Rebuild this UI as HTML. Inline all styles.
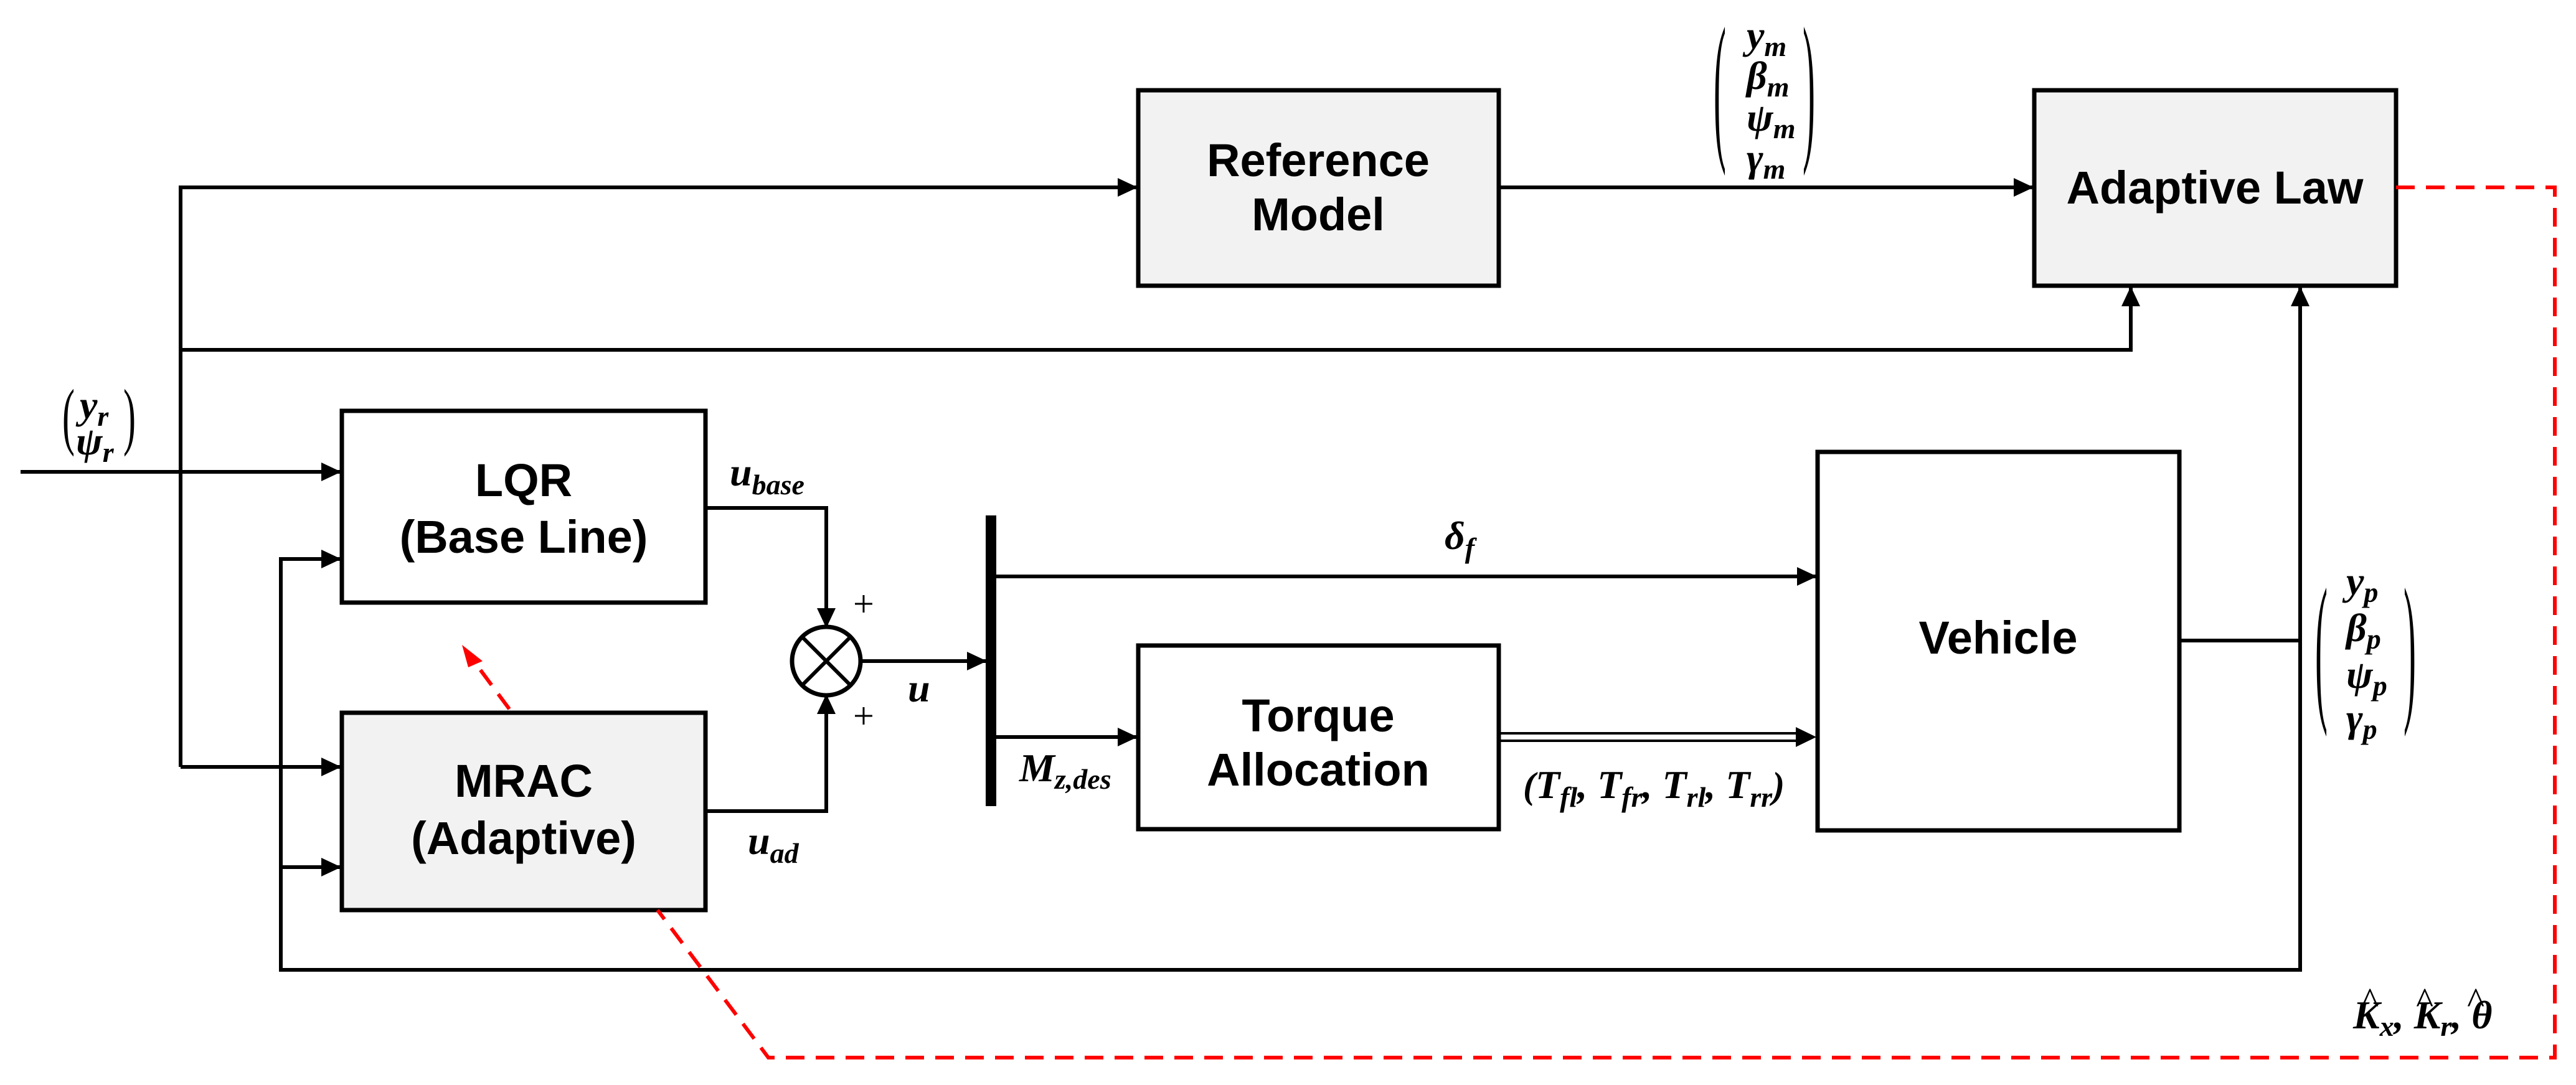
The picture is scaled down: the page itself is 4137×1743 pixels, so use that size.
<!DOCTYPE html>
<html><head><meta charset="utf-8"><style>
html,body{margin:0;padding:0;background:#fff;}
svg{display:block;}
.bx{font-family:"Liberation Sans",sans-serif;font-weight:bold;font-size:74px;fill:#000;text-anchor:middle;}
.m{font-family:"Liberation Serif",serif;font-weight:bold;font-style:italic;font-size:64px;fill:#000;}
.s{font-size:46px;}
.p{font-family:"Liberation Serif",serif;font-size:60px;fill:#000;}
</style></head><body>
<svg width="4137" height="1743" viewBox="0 0 4137 1743" xmlns="http://www.w3.org/2000/svg">
<defs>
<marker id="ab" markerWidth="32" markerHeight="30" refX="30" refY="15" orient="auto" markerUnits="userSpaceOnUse" viewBox="0 0 32 30"><path d="M0,0 L32,15 L0,30 z" fill="#000"/></marker>
</defs>
<g stroke="#000" stroke-width="7" fill="none">
<rect x="1828" y="145" width="579" height="314" fill="#f2f2f2"/>
<rect x="3267" y="145" width="581" height="314" fill="#f2f2f2"/>
<rect x="549" y="660" width="584" height="308" fill="#fff"/>
<rect x="549" y="1145" width="584" height="317" fill="#f2f2f2"/>
<rect x="1828" y="1037" width="579" height="295" fill="#fff"/>
<rect x="2919" y="726" width="581" height="608" fill="#fff"/>
</g>
<g stroke="#000" stroke-width="6" fill="none">
<polyline points="290,1232 290,301 1825,301" marker-end="url(#ab)"/>
<line x1="290" y1="1232" x2="546" y2="1232" marker-end="url(#ab)"/>
<polyline points="290,562 3422,562 3422,462" marker-end="url(#ab)"/>
<line x1="33" y1="758" x2="546" y2="758" marker-end="url(#ab)"/>
<polyline points="3694,1029 3694,1558 451,1558 451,898 546,898" marker-end="url(#ab)"/>
<line x1="451" y1="1393" x2="546" y2="1393" marker-end="url(#ab)"/>
<line x1="3694" y1="1029" x2="3694" y2="462" marker-end="url(#ab)"/>
<line x1="3500" y1="1029" x2="3694" y2="1029"/>
<line x1="2407" y1="301" x2="3264" y2="301" marker-end="url(#ab)"/>
<polyline points="1133,816 1327,816 1327,1007" marker-end="url(#ab)"/>
<polyline points="1133,1303 1327,1303 1327,1117" marker-end="url(#ab)"/>
<circle cx="1327" cy="1062" r="55" stroke-width="7"/>
<line x1="1288" y1="1023" x2="1366" y2="1101"/>
<line x1="1366" y1="1023" x2="1288" y2="1101"/>
<line x1="1382" y1="1062" x2="1583" y2="1062" marker-end="url(#ab)"/>
<line x1="1591" y1="926" x2="2916" y2="926" marker-end="url(#ab)"/>
<line x1="1591" y1="1184" x2="1825" y2="1184" marker-end="url(#ab)"/>
<line x1="2407" y1="1178" x2="2890" y2="1178" stroke-width="4"/>
<line x1="2407" y1="1190" x2="2890" y2="1190" stroke-width="4"/>
</g>
<path d="M2884,1168 L2917,1184 L2884,1200 z" fill="#000"/>
<rect x="1583" y="828" width="17" height="467" fill="#000"/>
<g stroke="#f00" stroke-width="6" fill="none" stroke-dasharray="30,18">
<polyline points="3848,301 4103,301 4103,1699 1234,1699 1056,1462"/>
<line x1="818" y1="1139" x2="752" y2="1050"/>
</g>
<path d="M742,1036 L775,1062 L752,1072 z" fill="#f00"/>
<text class="bx" x="2117" y="283">Reference</text>
<text class="bx" x="2117" y="370">Model</text>
<text class="bx" x="3557" y="327">Adaptive Law</text>
<text class="bx" x="841" y="797">LQR</text>
<text class="bx" x="841" y="888">(Base Line)</text>
<text class="bx" x="841" y="1280">MRAC</text>
<text class="bx" x="841" y="1372">(Adaptive)</text>
<text class="bx" x="2117" y="1175">Torque</text>
<text class="bx" x="2117" y="1262">Allocation</text>
<text class="bx" x="3209" y="1050">Vehicle</text>
<text class="p" x="1370" y="990" font-size="60">+</text>
<text class="p" x="1370" y="1170" font-size="60">+</text>
<text class="m" x="1172" y="780">u<tspan class="s" dy="14">base</tspan></text>
<text class="m" x="1201" y="1372">u<tspan class="s" dy="14">ad</tspan></text>
<text class="m" x="1458" y="1127">u</text>
<text class="m" x="1637" y="1255">M<tspan class="s" dy="12">z,des</tspan></text>
<text class="m" x="2320" y="882">δ<tspan class="s" dy="14">f</tspan></text>
<text class="m" x="2446" y="1282"><tspan class="p">(</tspan>T<tspan class="s" dy="14">fl</tspan><tspan dy="-14">, T</tspan><tspan class="s" dy="14">fr</tspan><tspan dy="-14">, T</tspan><tspan class="s" dy="14">rl</tspan><tspan dy="-14">, T</tspan><tspan class="s" dy="14">rr</tspan><tspan class="p" dy="-14">)</tspan></text>
<!-- K hats -->
<text class="m" x="3779" y="1652">K<tspan class="s" dy="12">x</tspan><tspan dy="-12">, K</tspan><tspan class="s" dy="12">r</tspan><tspan dy="-12">, θ</tspan></text>
<text class="p" x="3792" y="1628" font-size="40">^</text>
<text class="p" x="3880" y="1628" font-size="40">^</text>
<text class="p" x="3962" y="1628" font-size="40">^</text>
<!-- y_r psi_r -->
<text class="p" transform="translate(100,708) scale(1,2)">(</text>
<text class="p" transform="translate(198,708) scale(1,2)">)</text>
<text class="m" x="128" y="672">y<tspan class="s" dy="12">r</tspan></text>
<text class="m" x="122" y="730">ψ<tspan class="s" dy="12">r</tspan></text>
<!-- m matrix -->
<text class="p" transform="translate(2752,226) scale(1,4.4)">(</text>
<text class="p" transform="translate(2895,226) scale(1,4.4)">)</text>
<text class="m" x="2805" y="78">y<tspan class="s" dy="12">m</tspan></text>
<text class="m" x="2805" y="143">β<tspan class="s" dy="12">m</tspan></text>
<text class="m" x="2805" y="210">ψ<tspan class="s" dy="12">m</tspan></text>
<text class="m" x="2805" y="275">γ<tspan class="s" dy="12">m</tspan></text>
<!-- p matrix -->
<text class="p" transform="translate(3718,1127) scale(1,4.4)">(</text>
<text class="p" transform="translate(3860,1127) scale(1,4.4)">)</text>
<text class="m" x="3768" y="955">y<tspan class="s" dy="12">p</tspan></text>
<text class="m" x="3768" y="1030">β<tspan class="s" dy="12">p</tspan></text>
<text class="m" x="3768" y="1105">ψ<tspan class="s" dy="12">p</tspan></text>
<text class="m" x="3768" y="1175">γ<tspan class="s" dy="12">p</tspan></text>
</svg>
</body></html>
